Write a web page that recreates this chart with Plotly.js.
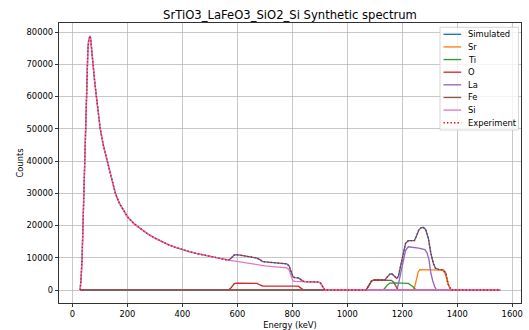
<!DOCTYPE html>
<html><head><meta charset="utf-8">
<script src="https://cdn.plot.ly/plotly-3.0.1.min.js"></script>
<style>html,body{margin:0;padding:0;background:#fff}#chart{width:529px;height:330px}</style>
</head><body><div id="chart"></div>
<script>
// ---- data ----
const simEnergy = [28,30,32,35,38,41,44,47,50,53,56,59,62,64,66,69,72,76,81,87,94,101,112,126,140,156,170,185,200,225,250,275,300,325,350,375,400,425,450,475,500,525,550,568,578,588,595,610,625,650,672,682,692,710,730,750,770,780,788,795,802,808,822,830,838,845,870,895,902,908,914,918,1068,1078,1088,1098,1137,1145,1155,1162,1170,1180,1186,1191,1197,1204,1212,1222,1234,1244,1252,1260,1268,1276,1285,1295,1304,1313,1321,1331,1349,1358,1367,1374,1378,1556];
const simCounts = [0,1500,4500,10000,19000,28000,37000,46000,57000,68000,74500,77500,78700,78800,78000,75000,72000,68500,64500,60000,55000,50000,45000,40000,35000,30000,27000,24700,22700,20500,18800,17300,16100,15000,14000,13200,12500,11900,11350,10850,10400,9950,9550,9250,9900,10850,10950,10800,10600,10250,9900,9400,8800,8650,8500,8350,8200,8100,7500,5700,4200,3850,3750,3300,2750,2600,2550,2450,2200,1300,300,0,0,1200,2800,3100,3100,4000,4950,5050,4400,3600,4300,6200,8500,10900,14500,15300,15400,15300,16800,18600,19300,19450,18800,16000,11400,8300,6700,6400,6200,5300,1800,300,0,0];
const expEnergy = simEnergy;
const expCounts = simCounts;

const srEnergy = [28,1240,1246,1252,1258,1264,1300,1343,1350,1358,1365,1371,1376,1556];
const srCounts = [0,0,1200,3500,5600,6300,6250,6150,5900,4700,2200,600,0,0];

const tiEnergy = [28,1131,1138,1145,1155,1170,1222,1230,1238,1246,1252,1556];
const tiCounts = [0,0,700,1500,2150,2200,2050,1700,1100,400,0,0];

const oEnergy = [28,568,578,588,595,672,682,692,822,830,838,845,1556];
const oCounts = [0,0,800,1900,2100,2050,1550,1250,1200,650,150,0,0];

const laEnergy = [28,1180,1186,1191,1197,1204,1212,1222,1240,1260,1282,1290,1297,1304,1311,1318,1325,1556];
const laCounts = [0,0,1800,4000,6500,9000,12300,13400,13300,13000,12500,11500,9500,5200,2800,1000,0,0];

const feEnergy = [28,1068,1078,1088,1098,1160,1168,1176,1183,1188,1556];
const feCounts = [0,0,1200,2800,3100,3000,2500,1200,300,0,0];

const siEnergy = [28,30,32,35,38,41,44,47,50,53,56,59,62,64,66,69,72,76,81,87,94,101,112,126,140,156,170,185,200,225,250,275,300,325,350,375,400,425,450,475,500,525,550,568,578,588,595,625,650,675,700,730,760,780,788,795,802,808,845,870,895,902,908,914,918,1556];
const siCounts = [0,1500,4500,10000,19000,28000,37000,46000,57000,68000,74500,77500,78700,78800,78000,75000,72000,68500,64500,60000,55000,50000,45000,40000,35000,30000,27000,24700,22700,20500,18800,17300,16100,15000,14000,13200,12500,11900,11350,10850,10400,9950,9550,9250,9100,8950,8850,8400,8050,7750,7500,7250,7000,6850,6300,4500,2900,2650,2600,2550,2450,2200,1300,300,0,0];

const seriesNames = ['Simulated','Sr','Ti','O','La','Fe','Si','Experiment'];
const xTickVals = [0,200,400,600,800,1000,1200,1400,1600];
const yTickVals = [0,10000,20000,30000,40000,50000,60000,70000,80000];

// ---- styling ----
const colors = ['#1f77b4','#ff7f0e','#2ca02c','#d62728','#9467bd','#8c564b','#e377c2','#ff0000'];
const dashes = ['solid','solid','solid','solid','solid','solid','solid','1.4px,2.1px'];
const xs = [simEnergy, srEnergy, tiEnergy, oEnergy, laEnergy, feEnergy, siEnergy, expEnergy];
const ys = [simCounts, srCounts, tiCounts, oCounts, laCounts, feCounts, siCounts, expCounts];
const LW = 1.35;

const traces = seriesNames.map((n,i)=>({
  type:'scatter', mode:'lines', name:n, x:xs[i], y:ys[i],
  line:{color:colors[i], width:LW, dash:dashes[i]}, hoverinfo:'skip'
}));

// plot area in pixels
const L=59, T=23, W=462, H=280;
const px2x = p => (p-L)/W;
const py2y = p => (T+H-p)/H;

const shapes = [{
  type:'rect', xref:'paper', yref:'paper', layer:'above',
  x0:px2x(440), x1:px2x(518.5), y0:py2y(130), y1:py2y(27.3),
  fillcolor:'rgba(255,255,255,0.8)', line:{color:'#cccccc', width:0.8}
}];
const annotations = [];
seriesNames.forEach((n,i)=>{
  const yc = 34.3 + i*12.63;
  shapes.push({type:'line', xref:'paper', yref:'paper', layer:'above',
    x0:px2x(443.5), x1:px2x(461.2), y0:py2y(yc), y1:py2y(yc),
    line:{color:colors[i], width:LW, dash:dashes[i]}});
  annotations.push({xref:'paper', yref:'paper', x:px2x(466.5), y:py2y(yc),
    xanchor:'left', yanchor:'middle', showarrow:false, text:n,
    font:{family:'DejaVu Sans', size:8.33, color:'#000'}, borderpad:0});
});

const axisCommon = {
  showgrid:true, gridcolor:'#b0b0b0', gridwidth:0.7, zeroline:false,
  showline:true, linecolor:'#000', linewidth:0.8, mirror:true,
  ticks:'outside', ticklen:3.5, tickwidth:0.8, tickcolor:'#000',
  tickformat:'d', automargin:false, tickmode:'array',
  tickfont:{family:'DejaVu Sans', size:8.33, color:'#000'}
};

const layout = {
  width:529, height:330,
  margin:{l:L, r:529-L-W, t:T, b:330-T-H, pad:0},
  paper_bgcolor:'#fff', plot_bgcolor:'#fff',
  font:{family:'DejaVu Sans', size:8.33, color:'#000'},
  title:{text:'SrTiO3_LaFeO3_SiO2_Si Synthetic spectrum', font:{family:'DejaVu Sans', size:11.6, color:'#000'},
    x:0.5, xref:'paper', xanchor:'center', y:1-15/330, yref:'container', yanchor:'middle'},
  showlegend:false,
  xaxis:Object.assign({}, axisCommon, {range:[-49,1632], tickvals:xTickVals,
    title:{text:'Energy (keV)', standoff:3, font:{family:'DejaVu Sans', size:8.33, color:'#000'}}}),
  yaxis:Object.assign({}, axisCommon, {range:[-4031,82790], tickvals:yTickVals,
    title:{text:'Counts', standoff:1, font:{family:'DejaVu Sans', size:8.33, color:'#000'}}}),
  shapes:shapes, annotations:annotations
};

Plotly.newPlot('chart', traces, layout, {staticPlot:true, displayModeBar:false});
</script>
</body></html>
